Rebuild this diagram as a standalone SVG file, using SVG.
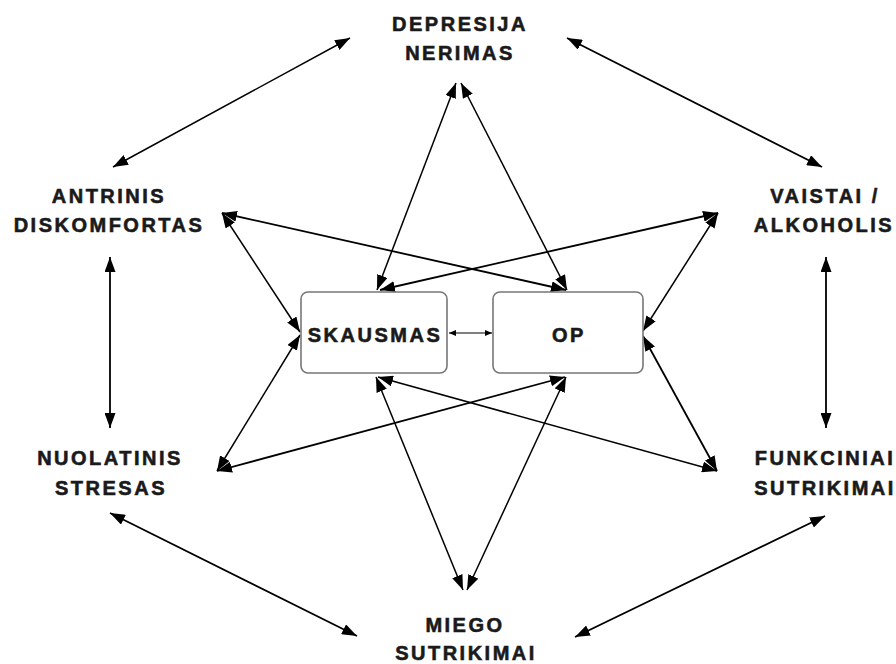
<svg xmlns="http://www.w3.org/2000/svg" width="896" height="664" viewBox="0 0 896 664">
<style>
  .lbl { font-family: "Liberation Sans", Arial, sans-serif; font-weight: bold; font-size: 20px; letter-spacing: 2.5px; fill: #1a1a1a; stroke: #1a1a1a; stroke-width: 0.6; text-anchor: middle; }
  .box { fill: #ffffff; stroke: #777777; stroke-width: 1.6; }
  .con line { stroke: #000000; stroke-width: 1.8; marker-start: url(#ah); marker-end: url(#ah); }
  .con line.thin { stroke-width: 1.5; }
  .con line.small { stroke-width: 1.2; marker-start: url(#sh); marker-end: url(#sh); }
</style>
<defs>
  <marker id="ah" viewBox="0 0 15 11" refX="15" refY="5.5" markerWidth="15" markerHeight="11" markerUnits="userSpaceOnUse" orient="auto-start-reverse">
    <path d="M0,0 L15,5.5 L0,11 z" fill="#000000"/>
  </marker>
  <marker id="sh" viewBox="0 0 7 6" refX="7" refY="3" markerWidth="7" markerHeight="6" markerUnits="userSpaceOnUse" orient="auto-start-reverse">
    <path d="M0,0 L7,3 L0,6 z" fill="#000000"/>
  </marker>
</defs>
<rect width="896" height="664" fill="#ffffff"/>
<g id="connectors" class="con">
  <line class="thin" x1="350" y1="38" x2="113" y2="167"/>
  <line x1="567" y1="38" x2="822" y2="167"/>
  <line x1="110" y1="257" x2="110" y2="428"/>
  <line x1="826" y1="257" x2="826" y2="428"/>
  <line x1="110" y1="513" x2="357" y2="636"/>
  <line x1="825" y1="516" x2="575" y2="637"/>
  <line class="thin" x1="456" y1="83" x2="377" y2="290"/>
  <line class="thin" x1="461" y1="83" x2="567" y2="290"/>
  <line class="thin" x1="222" y1="213" x2="300" y2="332"/>
  <line x1="222" y1="213" x2="566" y2="290"/>
  <line x1="718" y1="213" x2="380" y2="290"/>
  <line class="thin" x1="718" y1="213" x2="643" y2="331"/>
  <line class="thin" x1="217" y1="471" x2="300" y2="335"/>
  <line x1="217" y1="471" x2="565" y2="377"/>
  <line class="thin" x1="717" y1="471" x2="378" y2="377"/>
  <line x1="717" y1="471" x2="643" y2="336"/>
  <line class="thin" x1="463" y1="590" x2="376" y2="377"/>
  <line class="thin" x1="467" y1="590" x2="566" y2="377"/>
  <line class="small" x1="449" y1="333" x2="492" y2="333"/>
</g>
<g id="skausmas">
  <rect class="box" x="301" y="292" width="146" height="81" rx="7"/>
  <text class="lbl" x="375" y="342">SKAUSMAS</text>
</g>
<g id="op">
  <rect class="box" x="493" y="292" width="150" height="81" rx="7"/>
  <text class="lbl" x="569" y="342">OP</text>
</g>
<g id="depresija">
  <text class="lbl" x="460" y="31">DEPRESIJA</text>
  <text class="lbl" x="460" y="60">NERIMAS</text>
</g>
<g id="antrinis">
  <text class="lbl" x="109" y="203">ANTRINIS</text>
  <text class="lbl" x="109" y="232">DISKOMFORTAS</text>
</g>
<g id="vaistai">
  <text class="lbl" x="825" y="203">VAISTAI /</text>
  <text class="lbl" x="824" y="232">ALKOHOLIS</text>
</g>
<g id="nuolatinis">
  <text class="lbl" x="110" y="465">NUOLATINIS</text>
  <text class="lbl" x="111" y="495">STRESAS</text>
</g>
<g id="funkciniai">
  <text class="lbl" x="825" y="465">FUNKCINIAI</text>
  <text class="lbl" x="825" y="495">SUTRIKIMAI</text>
</g>
<g id="miego">
  <text class="lbl" x="465" y="632">MIEGO</text>
  <text class="lbl" x="466" y="660">SUTRIKIMAI</text>
</g>
</svg>
